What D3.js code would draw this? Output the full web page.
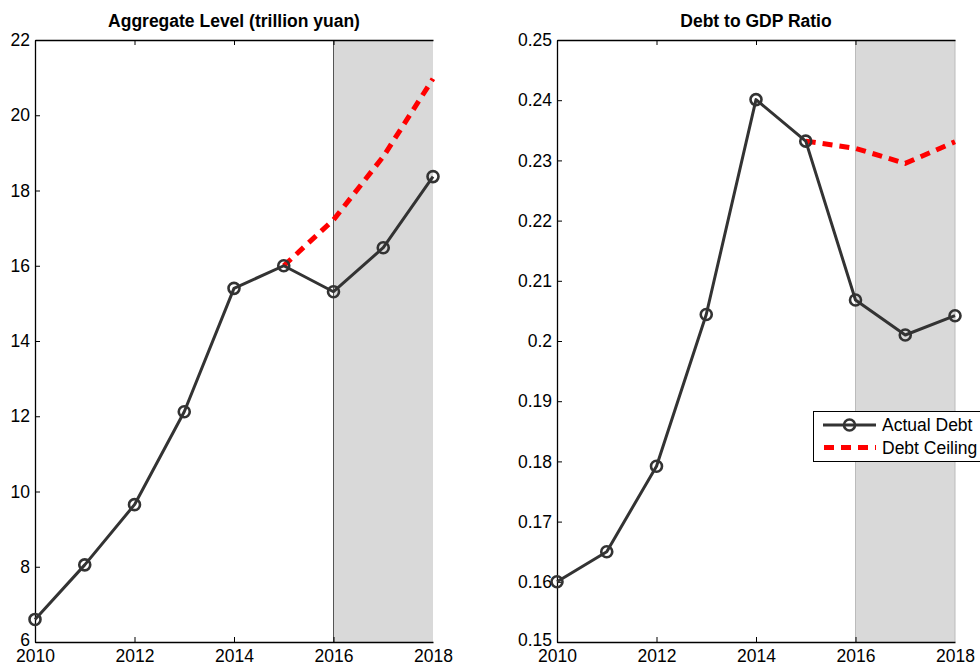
<!DOCTYPE html>
<html>
<head>
<meta charset="utf-8">
<script src="https://cdn.jsdelivr.net/npm/d3@7"></script>
<style>
  html, body { margin: 0; padding: 0; background: #fff; }
  svg { display: block; font-family: "Liberation Sans", Arial, sans-serif; }
</style>
</head>
<body>
<svg id="chart" width="980" height="666"></svg>
<script>
// Years on the horizontal axis
const years = [2010, 2011, 2012, 2013, 2014, 2015, 2016, 2017, 2018];
const ceilingYears = [2015, 2016, 2017, 2018];

// Aggregate debt level, trillion yuan
const levelActual = [6.6, 8.05, 9.65, 12.12, 15.4, 16.0, 15.31, 16.48, 18.37];
const levelCeiling = [16.0, 17.22, 18.9, 20.97];

// Debt to GDP ratio
const ratioActual = [0.160, 0.165, 0.1792, 0.2044, 0.2401, 0.2332, 0.2068, 0.2010, 0.2042];
const ratioCeiling = [0.2332, 0.2320, 0.2295, 0.2331];

// Tick values
const xTicks = [2010, 2012, 2014, 2016, 2018];
const levelTicks = [6, 8, 10, 12, 14, 16, 18, 20, 22];
const ratioTicks = [0.15, 0.16, 0.17, 0.18, 0.19, 0.20, 0.21, 0.22, 0.23, 0.24, 0.25];

// Forecast window shaded in each panel
const forecastSpan = [2016, 2018];

const svg = d3.select("#chart");
const FONT = 17.5;
const INK = "#333333";

function panel(opts) {
  const x = d3.scaleLinear().domain([2010, 2018]).range([opts.left, opts.right]);
  const y = d3.scaleLinear().domain(opts.yDomain).range([642, 40]);
  const g = svg.append("g");

  // shaded forecast region
  g.append("rect")
    .attr("x", x(forecastSpan[0]))
    .attr("y", y.range()[1])
    .attr("width", x(forecastSpan[1]) - x(forecastSpan[0]))
    .attr("height", y.range()[0] - y.range()[1])
    .attr("fill", "#d9d9d9");
  g.append("line")
    .attr("x1", x(forecastSpan[0])).attr("x2", x(forecastSpan[0]))
    .attr("y1", y.range()[1]).attr("y2", y.range()[0])
    .attr("stroke", opts.edge).attr("stroke-width", 1);
  if (opts.edgeRight) {
    g.append("line")
      .attr("x1", x(forecastSpan[1])).attr("x2", x(forecastSpan[1]))
      .attr("y1", y.range()[1]).attr("y2", y.range()[0])
      .attr("stroke", opts.edgeRight).attr("stroke-width", 1);
  }

  // axes with inward ticks
  const bottom = g.append("g")
    .attr("transform", `translate(0,${y.range()[0]})`)
    .call(d3.axisBottom(x).tickValues(xTicks).tickFormat(d3.format("d"))
      .tickSizeInner(-5).tickSizeOuter(0).tickPadding(8));
  const top = g.append("g")
    .attr("transform", `translate(0,${y.range()[1]})`)
    .call(d3.axisTop(x).tickValues(xTicks).tickFormat("")
      .tickSizeInner(-5).tickSizeOuter(0));
  const left = g.append("g")
    .attr("transform", `translate(${x.range()[0]},0)`)
    .call(d3.axisLeft(y).tickValues(opts.yTicks).tickFormat(opts.yFormat)
      .tickSizeInner(-5).tickSizeOuter(0).tickPadding(5));

  [bottom, top, left].forEach(a => {
    a.select(".domain").attr("stroke", "#000").attr("stroke-width", 1.3);
    a.selectAll(".tick line").attr("stroke", "#000").attr("stroke-width", 1);
    a.selectAll(".tick text").attr("fill", "#000")
      .style("font-size", FONT + "px")
      .style("font-family", "'Liberation Sans', Arial, sans-serif");
  });
  top.selectAll(".tick").filter(d => d === 2010 || d === 2018).remove();
  bottom.selectAll(".tick line").filter(d => d === 2010 || d === 2018).remove();
  // lowest value label sits just above the axis corner
  left.selectAll(".tick text").filter(d => d === opts.yDomain[0]).attr("dy", "0.2em");

  // title
  g.append("text")
    .attr("x", (x.range()[0] + x.range()[1]) / 2)
    .attr("y", 27)
    .attr("text-anchor", "middle")
    .style("font-size", FONT + "px")
    .style("font-weight", "bold")
    .text(opts.title);

  // debt ceiling (dashed)
  g.append("path")
    .datum(ceilingYears.map((yr, i) => [yr, opts.ceiling[i]]))
    .attr("fill", "none")
    .attr("stroke", "#ff0000")
    .attr("stroke-width", 5)
    .attr("stroke-dasharray", "10,7")
    .attr("d", d3.line().x(d => x(d[0])).y(d => y(d[1])));

  // actual debt
  const pts = years.map((yr, i) => [yr, opts.actual[i]]);
  g.append("path")
    .datum(pts)
    .attr("fill", "none")
    .attr("stroke", INK)
    .attr("stroke-width", 3)
    .attr("stroke-linejoin", "round")
    .attr("d", d3.line().x(d => x(d[0])).y(d => y(d[1])));
  g.selectAll("circle.m")
    .data(pts)
    .join("circle")
    .attr("class", "m")
    .attr("cx", d => x(d[0]))
    .attr("cy", d => y(d[1]))
    .attr("r", 5.5)
    .attr("fill", "none")
    .attr("stroke", INK)
    .attr("stroke-width", 2.6);

  return { x, y, g };
}

panel({
  left: 35, right: 433,
  yDomain: [6, 22], yTicks: levelTicks, yFormat: d3.format("d"),
  actual: levelActual, ceiling: levelCeiling,
  title: "Aggregate Level (trillion yuan)",
  edge: "#555555", edgeRight: null
});

panel({
  left: 557, right: 955,
  yDomain: [0.15, 0.25], yTicks: ratioTicks, yFormat: d3.format("~g"),
  actual: ratioActual, ceiling: ratioCeiling,
  title: "Debt to GDP Ratio",
  edge: "#bbbbbb", edgeRight: "#bbbbbb"
});

// legend
const lg = svg.append("g");
lg.append("rect")
  .attr("x", 813.5).attr("y", 411.5)
  .attr("width", 180).attr("height", 50)
  .attr("fill", "#fff").attr("stroke", "#000").attr("stroke-width", 1);
lg.append("line")
  .attr("x1", 823).attr("x2", 876).attr("y1", 425).attr("y2", 425)
  .attr("stroke", INK).attr("stroke-width", 3);
lg.append("circle")
  .attr("cx", 849.5).attr("cy", 425).attr("r", 5.5)
  .attr("fill", "none").attr("stroke", INK).attr("stroke-width", 2.6);
lg.append("line")
  .attr("x1", 824).attr("x2", 876).attr("y1", 447.5).attr("y2", 447.5)
  .attr("stroke", "#ff0000").attr("stroke-width", 5)
  .attr("stroke-dasharray", "10,7");
lg.append("text").attr("x", 882).attr("y", 431)
  .style("font-size", FONT + "px").text("Actual Debt");
lg.append("text").attr("x", 882).attr("y", 453.5)
  .style("font-size", FONT + "px").text("Debt Ceiling");
</script>
</body>
</html>
